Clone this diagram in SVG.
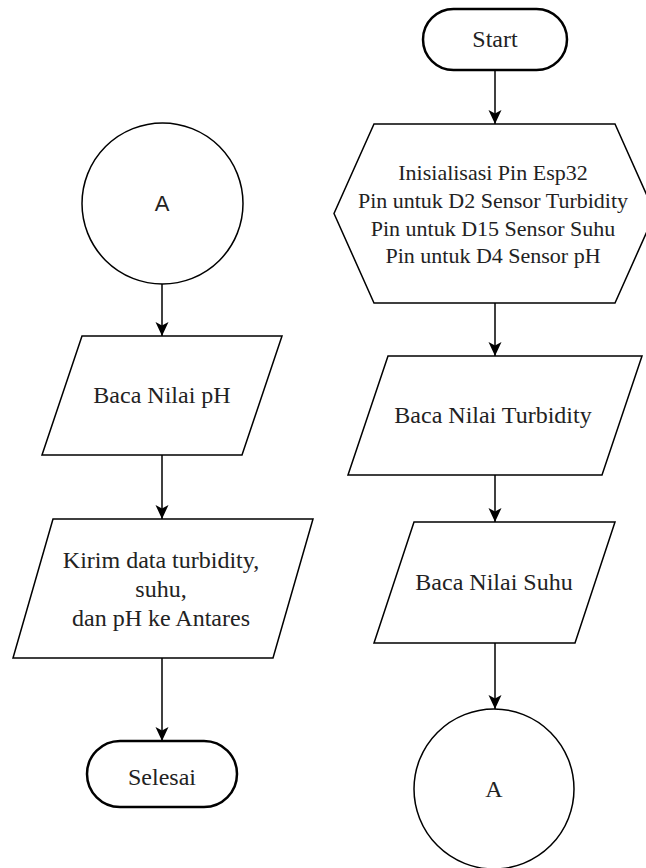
<svg xmlns="http://www.w3.org/2000/svg" width="646" height="868" viewBox="0 0 646 868">
<style>
.s{fill:#fff;stroke:#000;stroke-width:1.5}
.t{fill:#fff;stroke:#000;stroke-width:2.5}
.tx{font-family:"Liberation Serif","Times New Roman",serif;font-size:24px;fill:#222;text-anchor:middle}
.hx{font-family:"Liberation Serif","Times New Roman",serif;font-size:22px;fill:#222;text-anchor:middle}
.sa{font-family:"Liberation Sans",Arial,sans-serif;font-size:22px;fill:#222;text-anchor:middle}
.c{fill:none;stroke:#000;stroke-width:1.5}
</style>
<defs>
<marker id="arr" markerUnits="userSpaceOnUse" markerWidth="15" markerHeight="14" viewBox="0 0 15 14" refX="14" refY="7" orient="auto">
<path d="M0,0.5 L14,7 L0,13.5 L3.5,7 z" fill="#000"/>
</marker>
</defs>
<rect width="646" height="868" fill="#fff"/>
<g id="connectors">
<line class="c" x1="495" y1="70" x2="495" y2="124" marker-end="url(#arr)"/>
<line class="c" x1="495" y1="303" x2="495" y2="356" marker-end="url(#arr)"/>
<line class="c" x1="495" y1="475" x2="495" y2="522" marker-end="url(#arr)"/>
<line class="c" x1="495" y1="643" x2="495" y2="709" marker-end="url(#arr)"/>
<line class="c" x1="162" y1="284" x2="162" y2="336" marker-end="url(#arr)"/>
<line class="c" x1="162" y1="455" x2="162" y2="519" marker-end="url(#arr)"/>
<line class="c" x1="162" y1="658" x2="162" y2="741" marker-end="url(#arr)"/>
</g>
<g id="start">
<rect class="t" x="423" y="9" width="144" height="61" rx="30.5" ry="30.5"/>
<text class="tx" x="495" y="47">Start</text>
</g>
<g id="init">
<polygon class="s" points="374,124 615,124 655,213.5 615,303 374,303 334,213.5"/>
<text class="hx" x="493" y="180">Inisialisasi Pin Esp32</text>
<text class="hx" x="493" y="208">Pin untuk D2 Sensor Turbidity</text>
<text class="hx" x="493" y="236">Pin untuk D15 Sensor Suhu</text>
<text class="hx" x="493" y="263">Pin untuk D4 Sensor pH</text>
</g>
<g id="turbidity">
<polygon class="s" points="388,356 642,356 602,475 348,475"/>
<text class="tx" x="493" y="423">Baca Nilai Turbidity</text>
</g>
<g id="suhu">
<polygon class="s" points="414,522 615,522 575,643 374,643"/>
<text class="tx" x="494" y="590">Baca Nilai Suhu</text>
</g>
<g id="connectorA-right">
<circle class="s" cx="494" cy="789" r="80"/>
<text class="tx" x="494" y="797">A</text>
</g>
<g id="connectorA-left">
<circle class="s" cx="162.5" cy="203.5" r="80.5"/>
<text class="sa" x="162" y="211">A</text>
</g>
<g id="ph">
<polygon class="s" points="82,336 282,336 242,455 42,455"/>
<text class="tx" x="162" y="403">Baca Nilai pH</text>
</g>
<g id="kirim">
<polygon class="s" points="53,519 313,519 273,658 13,658"/>
<text class="tx" x="161" y="568">Kirim data turbidity,</text>
<text class="tx" x="161" y="597">suhu,</text>
<text class="tx" x="161" y="626">dan pH ke Antares</text>
</g>
<g id="selesai">
<rect class="t" x="87" y="741" width="150" height="66" rx="33" ry="33"/>
<text class="tx" x="162" y="785">Selesai</text>
</g>
</svg>
